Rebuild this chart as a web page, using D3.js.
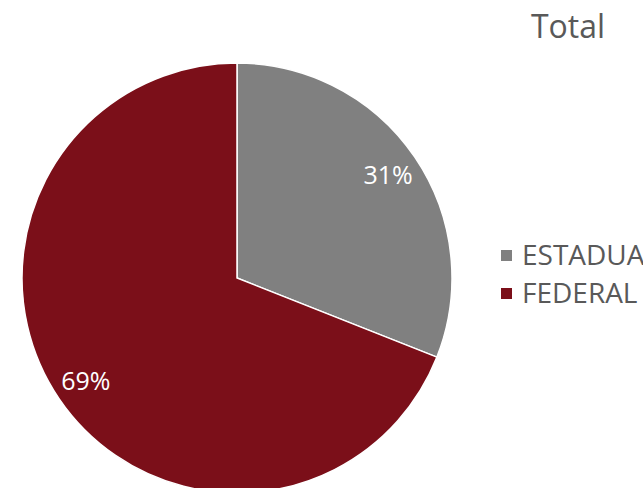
<!DOCTYPE html>
<html>
<head>
<meta charset="utf-8">
<script src="https://cdn.jsdelivr.net/npm/d3@7"></script>
<style>
  body { margin: 0; background: #fff; }
  text { font-family: "Open Sans", sans-serif; }
</style>
</head>
<body>
<div id="chart"></div>
<script>
// data
const categories = ["ESTADUAL", "FEDERAL"];
const shares = [31, 69];
const colors = ["#808080", "#7b0f19"];
const title = "Total";

const width = 643, height = 488;
const cx = 237, cy = 278, radius = 215;

const svg = d3.select("#chart").append("svg")
    .attr("width", width)
    .attr("height", height);

const data = categories.map((c, i) => ({category: c, value: shares[i], color: colors[i]}));

const pie = d3.pie()
    .sort(null)
    .value(d => d.value);

const arc = d3.arc()
    .innerRadius(0)
    .outerRadius(radius);

// labels sit at ~85% of the radius
const labelArc = d3.arc()
    .innerRadius(radius * 0.85)
    .outerRadius(radius * 0.85);

const g = svg.append("g")
    .attr("transform", `translate(${cx},${cy})`);

const arcs = pie(data);

g.selectAll("path")
    .data(arcs)
    .join("path")
    .attr("d", arc)
    .attr("fill", d => d.data.color)
    .attr("stroke", "#fff")
    .attr("stroke-width", 1.5);

g.selectAll(".lbl")
    .data(arcs)
    .join("text")
    .attr("class", "lbl")
    .attr("transform", d => `translate(${labelArc.centroid(d)})`)
    .attr("text-anchor", "middle")
    .attr("dy", "0.36em")
    .attr("fill", "#fff")
    .attr("font-size", 25)
    .text(d => d.data.value + "%");

// title
svg.append("text")
    .attr("x", 568)
    .attr("y", 38)
    .attr("text-anchor", "middle")
    .attr("fill", "#595959")
    .attr("font-size", 32)
    .text(title);

// legend
const legend = svg.append("g")
    .attr("transform", "translate(501,250)");

const item = legend.selectAll("g")
    .data(data)
    .join("g")
    .attr("transform", (d, i) => `translate(0,${i * 38})`);

item.append("rect")
    .attr("width", 11)
    .attr("height", 11)
    .attr("fill", d => d.color);

item.append("text")
    .attr("x", 21)
    .attr("y", 15)
    .attr("fill", "#595959")
    .attr("font-size", 28)
    .text(d => d.category);
</script>
</body>
</html>
